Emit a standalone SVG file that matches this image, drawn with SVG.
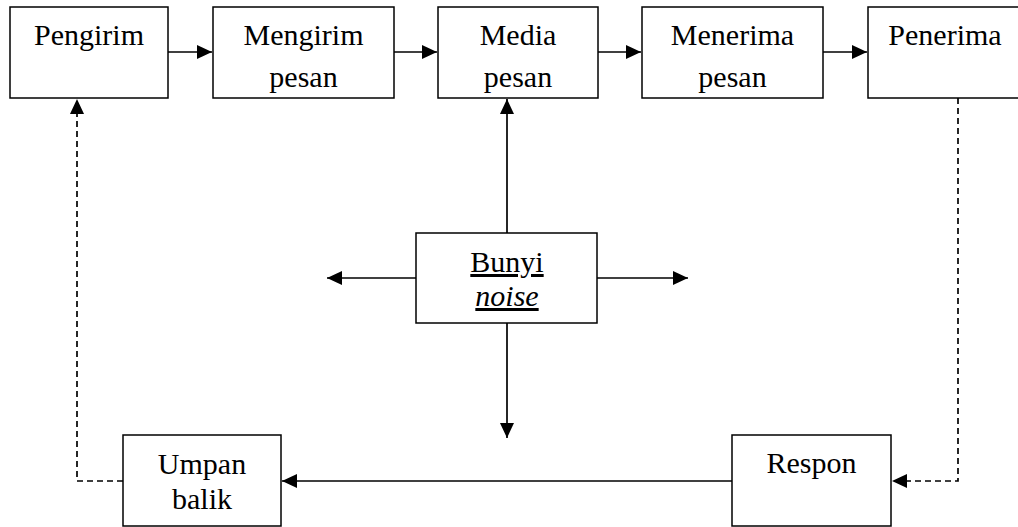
<svg xmlns="http://www.w3.org/2000/svg" width="1018" height="527" viewBox="0 0 1018 527">
<style>
.box{fill:#fff;stroke:#000;stroke-width:1.5}
.t{font-family:"Liberation Serif","Times New Roman",serif;font-size:30px;fill:#000;text-anchor:middle}
.ln{fill:none;stroke:#000;stroke-width:1.7}
.d{stroke-dasharray:6 4}
</style>
<defs>
<marker id="ah" markerUnits="userSpaceOnUse" markerWidth="17" markerHeight="15" refX="15" refY="7" orient="auto">
<path d="M0,0 L15,7 L0,14 Z" fill="#000"/>
</marker>
</defs>
<rect width="1018" height="527" fill="#fff"/>
<g id="connectors">
<path class="ln" d="M168,52 H212" marker-end="url(#ah)"/>
<path class="ln" d="M394,52 H437" marker-end="url(#ah)"/>
<path class="ln" d="M598,52 H641" marker-end="url(#ah)"/>
<path class="ln" d="M823,52 H867" marker-end="url(#ah)"/>
<path class="ln" d="M507,233 V99" marker-end="url(#ah)"/>
<path class="ln" d="M416,278 H327" marker-end="url(#ah)"/>
<path class="ln" d="M597,278 H688" marker-end="url(#ah)"/>
<path class="ln" d="M507,323 V438" marker-end="url(#ah)"/>
<path class="ln" d="M732,481 H282" marker-end="url(#ah)"/>
<path class="ln d" d="M958,98 V481 H892" marker-end="url(#ah)"/>
<path class="ln d" d="M123,481 H77 V99" marker-end="url(#ah)"/>
</g>
<g id="pengirim"><rect class="box" x="10" y="7" width="158" height="91"/><text class="t" x="89" y="45">Pengirim</text></g>
<g id="mengirim"><rect class="box" x="213" y="7" width="181" height="91"/><text class="t" x="303.5" y="45">Mengirim</text><text class="t" x="303.5" y="87">pesan</text></g>
<g id="media"><rect class="box" x="438" y="7" width="160" height="91"/><text class="t" x="518" y="45">Media</text><text class="t" x="518" y="87">pesan</text></g>
<g id="menerima"><rect class="box" x="642" y="7" width="181" height="91"/><text class="t" x="732.5" y="45">Menerima</text><text class="t" x="732.5" y="87">pesan</text></g>
<g id="penerima"><rect class="box" x="868" y="7" width="160" height="91"/><text class="t" x="945" y="45">Penerima</text></g>
<g id="bunyi"><rect class="box" x="416" y="233" width="181" height="90"/><text class="t" x="507" y="272" text-decoration="underline">Bunyi</text><text class="t" x="507" y="306" font-style="italic" text-decoration="underline">noise</text></g>
<g id="umpan"><rect class="box" x="123" y="435" width="158" height="91"/><text class="t" x="202" y="474">Umpan</text><text class="t" x="202" y="509">balik</text></g>
<g id="respon"><rect class="box" x="732" y="435" width="159" height="91"/><text class="t" x="811.5" y="473">Respon</text></g>
</svg>
